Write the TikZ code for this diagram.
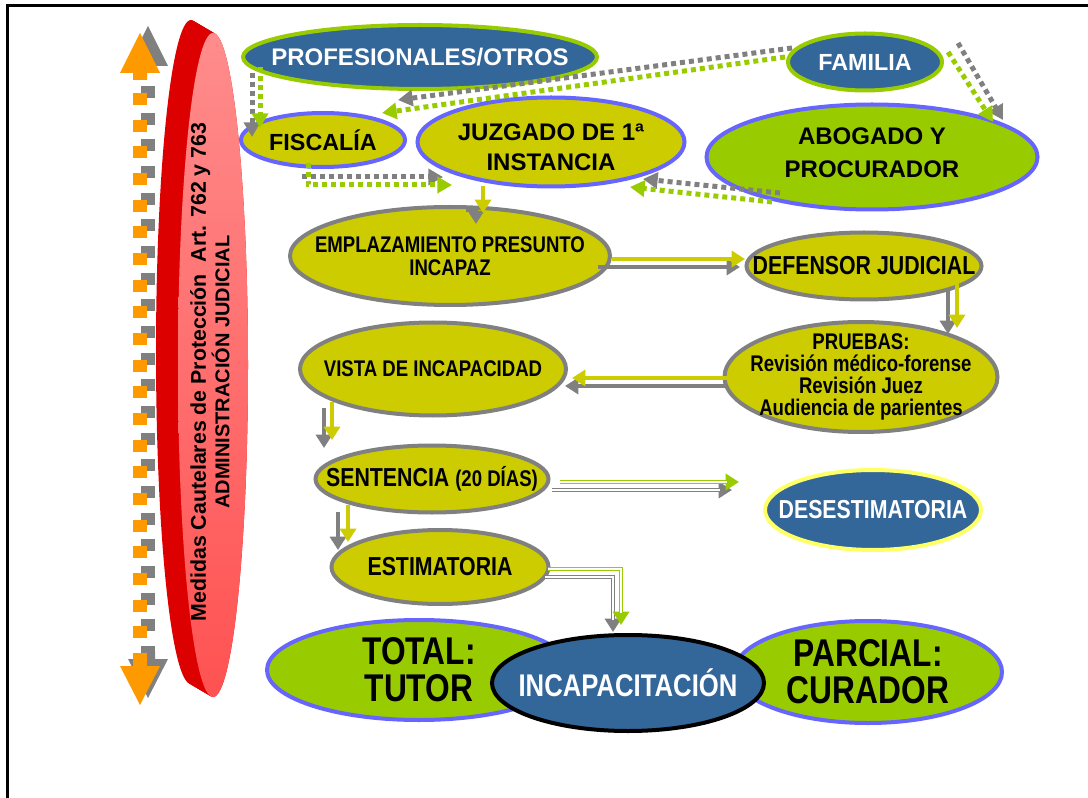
\documentclass[tikz,border=0pt]{standalone}
\usepackage{fontspec}
\setmainfont{Liberation Sans}
\newfontfamily\narrowfont[FakeStretch=0.82]{Liberation Sans}
\usetikzlibrary{shapes.geometric,arrows.meta,calc}

\definecolor{nblue}{HTML}{336699}
\definecolor{ngreen}{HTML}{99CC00}
\definecolor{nolive}{HTML}{CCCC00}
\definecolor{nedge}{HTML}{6666FF}
\definecolor{ngray}{HTML}{808080}
\definecolor{nyellow}{HTML}{FFFF66}
\definecolor{norange}{HTML}{FF9900}
\definecolor{dred}{HTML}{DD0000}
\definecolor{pinktop}{HTML}{FF8C8C}
\definecolor{pinkbot}{HTML}{FF5252}

\newcommand\txtsz[2]{\bfseries\fontsize{#1}{#2}\selectfont}
\newcommand\nrwsz[2]{\narrowfont\bfseries\fontsize{#1}{#2}\selectfont}

\tikzset{
  oval/.style={ellipse, inner sep=0pt, line width=3pt},
  bluebox/.style={oval, fill=nblue, draw=ngreen},
  olivebox/.style={oval, fill=nolive, draw=nedge},
  greybox/.style={oval, fill=nolive, draw=ngray},
  limebox/.style={oval, fill=ngreen, draw=nedge},
  lbl/.style={inner sep=0pt, align=center},
  dotg/.style={draw=ngray, line width=3.75pt, dash pattern=on 3.75pt off 3pt,
    -{Triangle[width=12pt,length=11pt]}},
  dotgr/.style={dotg, draw=ngreen},
  solg/.style={draw=ngray, line width=3.6pt, -{Triangle[width=12pt,length=10pt]}},
  soly/.style={solg, draw=nolive, line width=2.8pt},
  solgr/.style={solg, draw=ngreen, line width=2.8pt},
  hollow/.style={postaction={draw=white, line width=0.9pt, -, shorten >=9pt}},
}

\begin{document}
\begin{tikzpicture}[x=0.75pt, y=-0.75pt]
\useasboundingbox (0,0) rectangle (1088,798);

% page frame (top and left edges)
\draw[line width=2.25pt] (1088,6) -- (7,6) -- (7,798);

% vertical double-headed dotted arrow with its grey shadow
\coordinate (gtop) at (148,26);
\coordinate (gbot) at (148,698);
\coordinate (vtop) at (140,33);
\coordinate (vbot) at (140,705);
\draw[ngray, line width=10pt, dash pattern=on 9pt off 11pt] ($(gtop)+(0,60)$) -- ($(gbot)+(0,-42)$);
\fill[ngray] (gtop) -- ++(20,40) -- ++(-13,0) -- ++(0,7) -- ++(-14,0) -- ++(0,-7) -- ++(-13,0) -- cycle;
\fill[ngray] (gbot) -- ++(20,-39) -- ++(-13,0) -- ++(0,-8) -- ++(-14,0) -- ++(0,8) -- ++(-13,0) -- cycle;
\draw[norange, line width=10pt, dash pattern=on 9pt off 11pt] ($(vtop)+(0,60)$) -- ($(vbot)+(0,-42)$);
\fill[norange] (vtop) -- ++(20,40) -- ++(-13,0) -- ++(0,7) -- ++(-14,0) -- ++(0,-7) -- ++(-13,0) -- cycle;
\fill[norange] (vbot) -- ++(20,-39) -- ++(-13,0) -- ++(0,-8) -- ++(-14,0) -- ++(0,8) -- ++(-13,0) -- cycle;

% extruded red oval
\foreach \k in {0,...,22}
  \fill[dred] ({191+\k},{352+\k*13/22}) ellipse [x radius=26.25pt, y radius=249pt];
\shade[top color=pinktop, bottom color=pinkbot] (213,365) ellipse [x radius=26.25pt, y radius=249pt];
\node[rotate=90, align=center, inner sep=0pt] (adm) at (210,372)
  {\txtsz{16}{19}Medidas Cautelares de Protección~~Art. 762 y 763\\
   \txtsz{15}{19}ADMINISTRACIÓN JUDICIAL};

% top row
\node[bluebox, minimum width=265.5pt, minimum height=48pt,
  label={[lbl,text=white,font=\txtsz{18}{20}]center:{PROFESIONALES/OTROS}}] (prof) at (420,57) {};
\node[bluebox, minimum width=115.5pt, minimum height=42.75pt,
  label={[lbl,text=white,font=\txtsz{17.5}{20}]center:{FAMILIA}}] (fam) at (865,62) {};
\node[olivebox, minimum width=123pt, minimum height=40.5pt,
  label={[lbl,font=\txtsz{17.5}{20}]center:{FISCALÍA}}] (fisc) at (323,140) {};
\node[olivebox, minimum width=200.25pt, minimum height=66.75pt,
  label={[lbl,yshift=-4pt,font=\txtsz{18}{22.5}]center:{JUZGADO DE 1ª\\INSTANCIA}}] (juz) at (551,142) {};
\node[limebox, minimum width=248.25pt, minimum height=78.75pt,
  label={[lbl,yshift=3pt,font=\txtsz{18}{24.5}]center:{ABOGADO Y\\PROCURADOR}}] (abog) at (872,157) {};

% procedure steps
\node[greybox, minimum width=240pt, minimum height=73.5pt,
  label={[lbl,font=\nrwsz{17}{17.25}]center:{EMPLAZAMIENTO PRESUNTO\\INCAPAZ}}] (empl) at (450,256) {};
\node[greybox, minimum width=176.25pt, minimum height=50.25pt,
  label={[lbl,font=\nrwsz{19.5}{21}]center:{DEFENSOR JUDICIAL}}] (def) at (864,266) {};
\node[greybox, minimum width=204.75pt, minimum height=82.5pt,
  label={[lbl,font=\nrwsz{17}{16.5}]center:{PRUEBAS:\\Revisión médico-forense\\Revisión Juez\\Audiencia de parientes}}] (prue) at (861,377) {};
\node[greybox, minimum width=199.5pt, minimum height=69.75pt,
  label={[lbl,font=\nrwsz{17}{19}]center:{VISTA DE INCAPACIDAD}}] (vista) at (433,369) {};
\node[greybox, minimum width=174.75pt, minimum height=50.25pt,
  label={[lbl,font=\nrwsz{19.5}{21}]center:{SENTENCIA {\nrwsz{17}{21}(20 DÍAS)}}}] (sent) at (432,479) {};
\node[oval, fill=nblue, draw=nyellow, minimum width=162pt, minimum height=60pt,
  label={[lbl,text=white,font=\nrwsz{19.5}{21}]center:{DESESTIMATORIA}}] (deses) at (873,510) {};
\node[greybox, minimum width=162.75pt, minimum height=55.5pt,
  label={[lbl,font=\nrwsz{19.5}{21}]center:{ESTIMATORIA}}] (estim) at (440,567) {};

% outcome
\node[limebox, minimum width=228pt, minimum height=75pt,
  label={[lbl,font=\nrwsz{29}{28}]center:{TOTAL:\\TUTOR}}] (total) at (419,670) {};
\node[limebox, minimum width=201pt, minimum height=76.5pt,
  label={[lbl,font=\nrwsz{29}{28}]center:{PARCIAL:\\CURADOR}}] (parc) at (868,672) {};
\node[oval, fill=nblue, draw=black, minimum width=204pt, minimum height=72pt,
  label={[lbl,text=white,font=\nrwsz{23.5}{25}]center:{INCAPACITACIÓN}}] (incap) at (628,683) {};

% dotted connectors
\draw[dotg]  ($(prof.center)+(-168,16)$) -- ($(fisc.center)+(-71,-3)$);
\draw[dotgr] ($(prof.center)+(-160,10)$) -- ($(fisc.center)+(-63,-12)$);
\draw[dotg]  ($(fisc.center)+(-21,37)$) -- ($(juz.center)+(-108,35)$);
\draw[dotgr] ($(fisc.center)+(-15,23)$) |- ($(juz.center)+(-99,43)$);
\draw[dotg]  ($(fam.center)+(-73,-14)$) -- ($(fisc.center)+(75,-40)$);
\draw[dotgr] ($(fam.center)+(-80,-5)$) -- ($(fisc.center)+(59,-27)$);
\draw[dotg]  ($(fam.center)+(93,-19)$) -- ($(abog.center)+(131,-37)$);
\draw[dotgr] ($(fam.center)+(83,-10)$) -- ($(abog.center)+(121,-35)$);
\draw[dotg]  ($(abog.center)+(-92,36)$) -- ($(juz.center)+(92,37)$);
\draw[dotgr] ($(abog.center)+(-100,45)$) -- ($(juz.center)+(79,45)$);

% solid connectors
\draw[solg] ($(juz.center)+(-85,68)$) -| ($(empl.center)+(26,-32)$);
\draw[soly] ($(juz.center)+(-68,44)$) -- ($(empl.center)+(33,-43)$);
\draw[solg] ($(empl.center)+(148,11)$) -- ($(def.center)+(-124,1)$);
\draw[soly] ($(empl.center)+(162,3)$) -- ($(def.center)+(-119,-7)$);
\draw[solg] ($(def.center)+(84,24)$) -- ($(prue.center)+(87,-43)$);
\draw[soly] ($(def.center)+(93,17)$) -- ($(prue.center)+(96,-49)$);
\draw[solg] ($(prue.center)+(-134,9)$) -- ($(vista.center)+(132,17)$);
\draw[soly] ($(prue.center)+(-134,1)$) -- ($(vista.center)+(139,9)$);
\draw[solg] ($(vista.center)+(-109,39)$) -- ($(sent.center)+(-108,-31)$);
\draw[soly] ($(vista.center)+(-101,33)$) -- ($(sent.center)+(-100,-39)$);
\draw[solg,hollow] ($(sent.center)+(120,11)$) -- ($(deses.center)+(-141,-20)$);
\draw[solgr,hollow] ($(sent.center)+(128,3)$) -- ($(deses.center)+(-134,-28)$);
\draw[solg] ($(sent.center)+(-94,33)$) -- ($(estim.center)+(-102,-17)$);
\draw[soly] ($(sent.center)+(-84,26)$) -- ($(estim.center)+(-92,-25)$);
\draw[solg,hollow] ($(estim.center)+(105,10)$) -| ($(incap.center)+(-15,-51)$);
\draw[solgr,hollow] ($(estim.center)+(108,2)$) -| ($(incap.center)+(-7,-58)$);
\end{tikzpicture}
\end{document}
